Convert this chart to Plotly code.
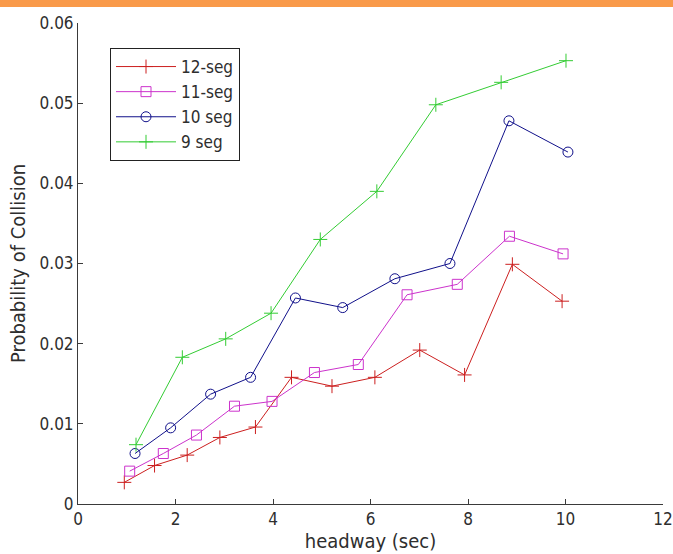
import plotly.graph_objects as go

x12 = [0.95, 1.57, 2.24, 2.91, 3.64, 4.38, 5.21, 6.09, 7.01, 7.93, 8.91, 9.93]
y12 = [0.0027, 0.0048, 0.0061, 0.0083, 0.0096, 0.0158, 0.0147, 0.0158, 0.0192, 0.0161, 0.0299, 0.0253]

x11 = [1.06, 1.75, 2.43, 3.21, 3.98, 4.85, 5.75, 6.75, 7.78, 8.85, 9.95]
y11 = [0.0041, 0.0063, 0.0086, 0.0122, 0.0128, 0.0164, 0.0174, 0.0261, 0.0274, 0.0334, 0.0312]

x10 = [1.17, 1.90, 2.72, 3.54, 4.46, 5.43, 6.50, 7.63, 8.84, 10.05]
y10 = [0.0063, 0.0095, 0.0137, 0.0158, 0.0257, 0.0245, 0.0281, 0.0300, 0.0478, 0.0439]

x9 = [1.19, 2.14, 3.03, 3.96, 4.97, 6.13, 7.34, 8.68, 10.01]
y9 = [0.0074, 0.0183, 0.0206, 0.0238, 0.0330, 0.0390, 0.0498, 0.0526, 0.0553]

names = ["12-seg", "11-seg", "10 seg", "9 seg"]
colors = ["#cc1f1f", "#cc33cc", "#10108a", "#33cc33"]
symbols = ["cross-thin-open", "square-open", "circle-open", "cross-thin-open"]
data = [(x12, y12), (x11, y11), (x10, y10), (x9, y9)]

font = "DejaVu Sans Condensed, Liberation Sans, Arial"
axcol = "#3a3a3a"
txtcol = "#2e2e2e"

fig = go.Figure()
for (xs, ys), n, c, s in zip(data, names, colors, symbols):
    fig.add_trace(go.Scatter(
        x=xs, y=ys, name=n, mode="lines+markers",
        line=dict(color=c, width=1),
        marker=dict(symbol=s, size=10, color=c, line=dict(color=c, width=1)),
        legendgroup=n,
    ))

W, H = 673, 554
ml, mr, mt, mb = 78, 10, 23, 50
pw, ph = W - ml - mr, H - mt - mb

fig.update_layout(
    width=W, height=H,
    margin=dict(l=ml, r=mr, t=mt, b=mb, autoexpand=False),
    paper_bgcolor="white", plot_bgcolor="white",
    font=dict(family=font, size=17, color=txtcol),
    showlegend=True,
    legend=dict(
        x=(110 - ml) / pw, y=1 - (48 - mt) / ph, xanchor="left", yanchor="top",
        bordercolor="#222222", borderwidth=1, bgcolor="white",
        font=dict(family=font, size=17, color=txtcol),
        traceorder="grouped", tracegroupgap=0, itemwidth=60,
    ),
    xaxis=dict(
        range=[0, 12], tickvals=[0, 2, 4, 6, 8, 10, 12],
        ticks="inside", ticklen=5, tickcolor=axcol,
        showline=True, linecolor=axcol, linewidth=1,
        showgrid=False, zeroline=False, mirror=False, automargin=False,
        title=dict(text="headway (sec)", standoff=3),
    ),
    yaxis=dict(
        range=[0, 0.06], tickvals=[0, 0.01, 0.02, 0.03, 0.04, 0.05, 0.06],
        ticktext=["0", "0.01", "0.02", "0.03", "0.04", "0.05", "0.06"],
        ticks="inside", ticklen=5, tickcolor=axcol,
        showline=True, linecolor=axcol, linewidth=1,
        showgrid=False, zeroline=False, mirror=False, automargin=False,
        title=dict(text="Probability of Collision", standoff=8),
    ),
    shapes=[dict(
        type="rect", xref="paper", yref="paper",
        x0=-ml / pw, x1=1 + mr / pw,
        y0=1 + (mt - 7) / ph, y1=1 + mt / ph,
        fillcolor="#f99a4a", line=dict(width=0), layer="above",
    )],
)

fig.write_html(
    "out.html",
    config={"displayModeBar": False},
    post_script=["document.body.style.margin='0';document.body.style.overflow='hidden';"],
)
